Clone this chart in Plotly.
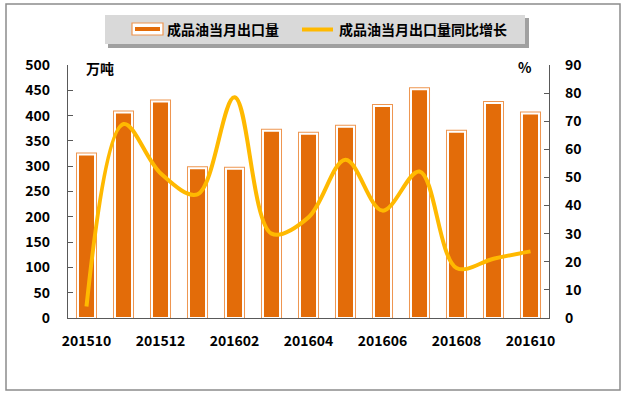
import plotly.graph_objects as go

months = ["201510", "201511", "201512", "201601", "201602", "201603", "201604",
          "201605", "201606", "201607", "201608", "201609", "201610"]
export_volume = [323, 406, 428, 296, 295, 370, 364, 378, 419, 452, 368, 425, 404]
export_yoy = [4.1, 69, 51.5, 44, 78.5, 30, 35.8, 56.3, 38.2, 52.1, 17.8, 21.1, 23.7]
left_ticks = list(range(0, 501, 50))
right_ticks = list(range(0, 91, 10))
x_ticks = months[::2]

name_bar = "成品油当月出口量"
name_line = "成品油当月出口量同比增长"

W, H = 628, 398
L, R, T, B = 68, 79, 65, 80
PW, PH = W - L - R, H - T - B

def px(x):
    return (x - L) / PW

def py(y):
    return (H - B - y) / PH

ORANGE = "#E36C09"
OUTLINE = "#EE9650"
GOLD = "#FFB900"
AXIS = "#595959"
CJK = "Noto Sans CJK SC"

fig = go.Figure()
# outer outline layer
fig.add_trace(go.Bar(x=months, y=export_volume, width=0.46, name=name_bar,
                     marker=dict(color=ORANGE, line=dict(color=OUTLINE, width=4)),
                     showlegend=False, hoverinfo="skip"))
# white border + fill
fig.add_trace(go.Bar(x=months, y=export_volume, width=0.46, name=name_bar,
                     marker=dict(color=ORANGE, line=dict(color="white", width=2)),
                     showlegend=False))
fig.add_trace(go.Scatter(x=months, y=export_yoy, yaxis="y2", mode="lines", name=name_line,
                         line=dict(color=GOLD, width=4, shape="spline", smoothing=1.0),
                         showlegend=False))

tickfont = dict(family=CJK, size=14, color="#000000", weight="bold")

fig.update_layout(
    width=W, height=H,
    margin=dict(l=L, r=R, t=T, b=B, autoexpand=False),
    paper_bgcolor="white", plot_bgcolor="white",
    barmode="overlay",
    xaxis=dict(type="category", range=[-0.5, 12.5], tickmode="array", tickvals=x_ticks,
               ticktext=x_ticks, showline=True, linecolor=AXIS, linewidth=1.2, ticks="",
               showgrid=False, zeroline=False, tickfont=tickfont, ticklabelstandoff=10),
    yaxis=dict(range=[0, 500], tickmode="array", tickvals=left_ticks, showline=True,
               linecolor=AXIS, linewidth=1.2, ticks="inside", ticklen=5, tickcolor=AXIS,
               showgrid=False, zeroline=False, tickfont=tickfont, ticklabelstandoff=14),
    yaxis2=dict(range=[0, 90], tickmode="array", tickvals=right_ticks, overlaying="y",
                side="right", showline=True, linecolor=AXIS, linewidth=1.2, ticks="inside",
                ticklen=5, tickcolor=AXIS, showgrid=False, zeroline=False, tickfont=tickfont,
                ticklabelstandoff=12),
)

shapes = []
# chart border
shapes.append(dict(type="rect", xref="paper", yref="paper", x0=px(6), x1=px(620),
                   y0=py(390), y1=py(4), line=dict(color="#8C8C8C", width=1.5),
                   fillcolor="rgba(0,0,0,0)", layer="above"))
# legend shadow + box
shapes.append(dict(type="rect", xref="paper", yref="paper", x0=px(108), x1=px(529),
                   y0=py(48), y1=py(18), line=dict(width=0), fillcolor="#A0A0A0"))
shapes.append(dict(type="rect", xref="paper", yref="paper", x0=px(105), x1=px(525),
                   y0=py(44), y1=py(15), line=dict(width=0), fillcolor="#D9D9D9"))
# bar legend symbol
shapes.append(dict(type="rect", xref="paper", yref="paper", x0=px(132), x1=px(163),
                   y0=py(35), y1=py(23), line=dict(color=OUTLINE, width=1.2), fillcolor="white"))
shapes.append(dict(type="rect", xref="paper", yref="paper", x0=px(135), x1=px(160),
                   y0=py(31), y1=py(27), line=dict(width=0), fillcolor=ORANGE))
# line legend symbol
shapes.append(dict(type="line", xref="paper", yref="paper", x0=px(302), x1=px(333),
                   y0=py(29.5), y1=py(29.5), line=dict(color=GOLD, width=4)))

legfont = dict(family=CJK, size=14, color="#000000", weight="bold")
annotations = [
    dict(xref="paper", yref="paper", x=px(165), y=py(29), text=name_bar, showarrow=False,
         xanchor="left", yanchor="middle", font=legfont),
    dict(xref="paper", yref="paper", x=px(337), y=py(29), text=name_line, showarrow=False,
         xanchor="left", yanchor="middle", font=legfont),
    dict(xref="paper", yref="paper", x=px(99.5), y=py(67.5), text="万吨", showarrow=False,
         xanchor="center", yanchor="middle", font=dict(family=CJK, size=14, color="#000", weight="bold")),
    dict(xref="paper", yref="paper", x=px(524.5), y=py(67), text="%", showarrow=False,
         xanchor="center", yanchor="middle", font=dict(family=CJK, size=14, color="#000", weight="bold")),
]
fig.update_layout(shapes=shapes, annotations=annotations)

fig.write_html("out.html", config={"displayModeBar": False},
               post_script="document.body.style.margin='0';document.body.style.overflow='hidden';")
